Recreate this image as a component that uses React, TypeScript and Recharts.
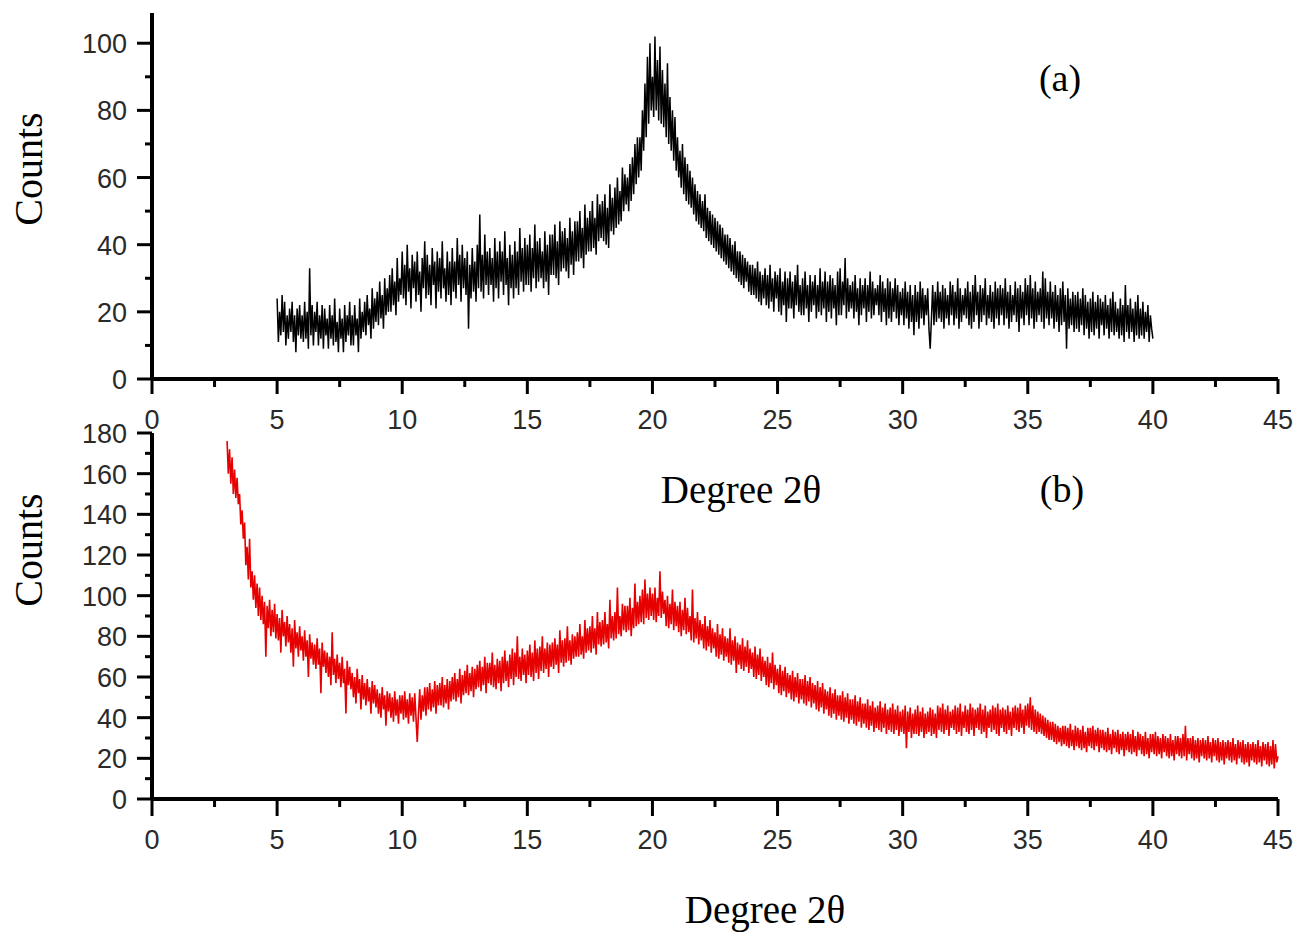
import React from "react";
import { LineChart, Line, XAxis, YAxis } from "recharts";

// sampling grid of the two scans (degrees 2θ)
const startA = 5;
const startB = 3;
const stepDeg = 0.05;

// (a) counts, 5.00 → 40.00, one row = 0.5°
const countsA = [
  24, 11, 20, 13, 25, 14, 23, 10, 19, 12,
  21, 14, 23, 11, 19, 8, 21, 13, 22, 12,
  19, 11, 23, 12, 20, 9, 33, 13, 22, 10,
  20, 14, 23, 10, 19, 12, 22, 9, 21, 13,
  18, 9, 22, 12, 19, 10, 24, 11, 17, 8,
  21, 12, 18, 8, 22, 11, 19, 13, 23, 10,
  19, 10, 22, 13, 18, 8, 24, 12, 20, 14,
  23, 13, 25, 16, 21, 12, 27, 15, 24, 17,
  26, 16, 29, 18, 25, 15, 30, 19, 27, 20,
  31, 20, 33, 22, 29, 19, 36, 23, 30, 25,
  38, 24, 34, 22, 40, 26, 33, 21, 37, 27,
  35, 23, 38, 25, 32, 20, 36, 27, 41, 24,
  37, 25, 34, 22, 39, 28, 35, 21, 38, 26,
  36, 24, 41, 27, 33, 23, 38, 25, 35, 22,
  39, 26, 35, 24, 42, 28, 37, 23, 40, 27,
  36, 25, 38, 15, 34, 24, 39, 26, 35, 23,
  40, 27, 49, 26, 37, 24, 43, 28, 38, 25,
  39, 28, 36, 23, 42, 27, 38, 24, 41, 29,
  38, 25, 44, 28, 36, 22, 40, 27, 37, 24,
  41, 27, 38, 25, 45, 29, 39, 26, 42, 28,
  40, 28, 43, 26, 39, 30, 46, 27, 41, 29,
  42, 30, 38, 27, 44, 29, 40, 25, 43, 31,
  43, 31, 46, 30, 41, 28, 47, 32, 44, 33,
  45, 32, 42, 30, 48, 34, 44, 31, 47, 35,
  47, 35, 50, 36, 45, 33, 52, 37, 48, 38,
  50, 38, 53, 39, 48, 37, 55, 41, 52, 42,
  53, 41, 55, 40, 51, 39, 58, 44, 54, 43,
  57, 45, 60, 46, 56, 47, 63, 50, 61, 52,
  60, 50, 64, 53, 66, 55, 70, 58, 72, 60,
  72, 62, 80, 68, 88, 72, 96, 76, 100, 80,
  90, 78, 102, 80, 95, 77, 99, 76, 92, 75,
  88, 72, 94, 70, 84, 68, 80, 65, 78, 62,
  72, 60, 68, 57, 70, 55, 66, 53, 64, 52,
  62, 51, 60, 49, 58, 47, 56, 46, 55, 45,
  53, 44, 55, 42, 51, 41, 50, 40, 49, 39,
  48, 38, 47, 37, 46, 36, 45, 35, 43, 34,
  43, 33, 42, 32, 40, 31, 41, 30, 38, 29,
  38, 28, 37, 27, 36, 29, 35, 26, 34, 25,
  34, 25, 33, 24, 35, 23, 32, 22, 31, 24,
  33, 22, 31, 21, 34, 23, 30, 20, 32, 24,
  31, 20, 33, 19, 29, 22, 32, 17, 30, 21,
  32, 21, 29, 18, 31, 22, 34, 20, 28, 19,
  30, 19, 32, 21, 28, 17, 31, 20, 29, 22,
  31, 18, 28, 20, 33, 19, 29, 21, 32, 17,
  29, 20, 31, 18, 30, 21, 28, 16, 32, 19,
  33, 19, 29, 22, 36, 18, 30, 20, 28, 21,
  29, 18, 31, 20, 27, 16, 30, 19, 28, 21,
  30, 17, 28, 20, 32, 18, 29, 19, 27, 22,
  28, 19, 31, 17, 29, 20, 27, 16, 30, 18,
  29, 17, 27, 20, 30, 18, 28, 16, 26, 19,
  27, 16, 29, 18, 26, 15, 28, 17, 25, 13,
  28, 17, 26, 15, 29, 18, 27, 16, 25, 19,
  27, 15, 9, 18, 28, 16, 26, 17, 29, 18,
  26, 17, 28, 15, 27, 18, 25, 16, 29, 19,
  28, 16, 26, 18, 30, 15, 27, 17, 25, 19,
  27, 18, 29, 16, 26, 15, 28, 17, 31, 19,
  26, 15, 28, 17, 27, 19, 30, 16, 25, 18,
  28, 17, 26, 15, 29, 18, 27, 16, 28, 19,
  27, 16, 30, 18, 26, 15, 28, 17, 25, 19,
  29, 17, 27, 14, 28, 18, 26, 16, 30, 19,
  28, 16, 31, 18, 27, 15, 29, 17, 26, 19,
  27, 17, 32, 15, 30, 18, 26, 16, 29, 18,
  26, 15, 28, 17, 25, 14, 27, 16, 29, 17,
  25, 9, 27, 15, 24, 16, 26, 14, 25, 15,
  26, 14, 24, 16, 27, 13, 25, 15, 23, 12,
  24, 14, 26, 13, 23, 15, 25, 12, 24, 16,
  23, 13, 25, 15, 22, 12, 24, 14, 26, 13,
  23, 14, 21, 12, 24, 13, 22, 11, 28, 14,
  22, 12, 24, 14, 21, 11, 23, 13, 25, 12,
  21, 13, 23, 12, 20, 14, 22, 11, 19, 15,
  12,
];

// (b) counts, 3.00 → 45.00, one row = 0.5°
const countsB = [
  176, 160, 172, 155, 168, 150, 162, 148, 158, 145,
  150, 135, 142, 128, 136, 115, 124, 108, 128, 104,
  112, 98, 110, 94, 106, 90, 104, 88, 100, 86,
  97, 70, 95, 84, 98, 80, 93, 82, 96, 79,
  91, 78, 89, 72, 93, 80, 87, 75, 90, 77,
  86, 72, 84, 65, 88, 74, 82, 70, 85, 73,
  80, 68, 83, 70, 78, 60, 81, 69, 77, 66,
  76, 64, 79, 66, 74, 52, 77, 65, 73, 62,
  72, 60, 70, 56, 82, 61, 69, 57, 71, 59,
  67, 55, 70, 57, 64, 42, 68, 56, 65, 54,
  62, 50, 60, 47, 64, 52, 59, 44, 61, 49,
  57, 46, 59, 48, 55, 42, 58, 47, 56, 45,
  54, 42, 52, 40, 55, 44, 51, 36, 53, 43,
  52, 40, 50, 38, 53, 41, 49, 37, 51, 42,
  51, 39, 53, 40, 49, 37, 52, 41, 50, 38,
  52, 40, 28, 42, 54, 39, 51, 43, 55, 41,
  55, 44, 57, 43, 54, 45, 58, 42, 56, 46,
  57, 46, 60, 45, 56, 47, 59, 44, 58, 48,
  60, 49, 62, 48, 59, 50, 64, 47, 61, 51,
  63, 52, 66, 51, 62, 53, 65, 50, 64, 54,
  66, 55, 68, 53, 65, 56, 70, 52, 67, 57,
  67, 56, 72, 55, 66, 54, 69, 57, 68, 53,
  70, 57, 73, 58, 68, 55, 71, 59, 74, 56,
  72, 60, 80, 59, 70, 58, 74, 61, 71, 57,
  73, 61, 76, 60, 72, 58, 78, 62, 74, 59,
  75, 63, 80, 62, 74, 64, 77, 60, 76, 65,
  77, 64, 79, 66, 76, 62, 83, 67, 78, 65,
  79, 67, 85, 68, 78, 66, 81, 69, 80, 70,
  82, 70, 86, 71, 80, 69, 88, 72, 84, 73,
  85, 72, 90, 74, 84, 71, 92, 76, 87, 75,
  88, 76, 92, 77, 86, 74, 98, 79, 90, 78,
  92, 79, 104, 81, 90, 80, 96, 83, 95, 82,
  95, 83, 99, 80, 94, 84, 106, 85, 97, 86,
  100, 87, 103, 86, 108, 89, 101, 88, 104, 90,
  101, 88, 104, 87, 99, 90, 112, 89, 102, 91,
  98, 85, 100, 84, 96, 86, 103, 83, 97, 85,
  95, 82, 97, 80, 93, 83, 99, 81, 94, 82,
  90, 78, 103, 77, 89, 79, 92, 76, 88, 78,
  86, 74, 90, 73, 85, 75, 88, 72, 84, 74,
  82, 70, 86, 69, 81, 71, 84, 68, 80, 70,
  79, 67, 84, 66, 78, 68, 80, 62, 77, 66,
  76, 64, 79, 63, 75, 65, 78, 62, 74, 64,
  72, 60, 75, 59, 71, 61, 74, 58, 70, 60,
  68, 56, 70, 55, 67, 57, 72, 54, 66, 56,
  64, 52, 66, 51, 63, 53, 65, 50, 62, 52,
  61, 49, 63, 48, 60, 50, 62, 47, 59, 49,
  59, 47, 61, 46, 58, 48, 60, 45, 57, 47,
  56, 44, 58, 43, 55, 45, 57, 42, 54, 44,
  53, 41, 55, 40, 52, 42, 54, 39, 51, 41,
  51, 39, 53, 38, 50, 40, 52, 37, 49, 39,
  49, 37, 51, 36, 48, 38, 50, 35, 47, 37,
  47, 35, 49, 34, 46, 36, 48, 33, 45, 35,
  46, 34, 48, 33, 45, 35, 47, 32, 44, 34,
  45, 33, 47, 32, 44, 34, 46, 31, 43, 33,
  44, 32, 46, 25, 43, 33, 45, 30, 42, 32,
  44, 32, 46, 31, 43, 33, 45, 30, 42, 32,
  43, 33, 45, 31, 44, 32, 42, 30, 46, 34,
  45, 33, 47, 32, 44, 34, 46, 31, 43, 35,
  44, 34, 46, 32, 45, 33, 47, 31, 43, 35,
  46, 33, 44, 32, 47, 34, 45, 31, 44, 35,
  45, 34, 47, 32, 44, 33, 46, 30, 43, 35,
  44, 33, 46, 34, 45, 32, 47, 31, 44, 35,
  45, 33, 44, 32, 46, 34, 43, 31, 45, 35,
  46, 34, 45, 33, 47, 35, 44, 32, 46, 36,
  47, 35, 50, 34, 46, 33, 44, 32, 43, 33,
  42, 32, 41, 31, 40, 30, 39, 29, 38, 29,
  38, 28, 37, 27, 36, 28, 35, 26, 36, 27,
  36, 26, 35, 25, 37, 26, 34, 24, 36, 26,
  35, 25, 34, 24, 36, 25, 33, 23, 35, 26,
  35, 25, 36, 24, 34, 26, 35, 23, 34, 25,
  34, 24, 33, 23, 35, 24, 32, 22, 34, 25,
  33, 23, 34, 22, 32, 24, 33, 21, 32, 24,
  33, 23, 32, 22, 34, 23, 31, 21, 33, 24,
  32, 22, 31, 21, 33, 22, 30, 20, 32, 23,
  32, 22, 33, 21, 31, 22, 30, 20, 32, 23,
  31, 21, 30, 20, 32, 21, 29, 19, 31, 22,
  31, 21, 30, 20, 32, 21, 36, 19, 30, 22,
  30, 20, 31, 19, 29, 20, 30, 18, 29, 21,
  30, 20, 29, 19, 31, 20, 28, 18, 30, 21,
  29, 19, 30, 18, 28, 19, 29, 17, 28, 20,
  29, 19, 28, 18, 30, 19, 27, 17, 29, 20,
  28, 18, 29, 17, 27, 18, 28, 16, 27, 19,
  28, 18, 27, 17, 29, 18, 26, 16, 28, 19,
  27, 17, 28, 16, 26, 17, 29, 15, 27, 18,
  21,
];

const xTicks = [0, 2.5, 5, 7.5, 10, 12.5, 15, 17.5, 20, 22.5, 25, 27.5, 30, 32.5, 35, 37.5, 40, 42.5, 45];
const yTicksA = [0, 10, 20, 30, 40, 50, 60, 70, 80, 90, 100];
const yTicksB = [0, 10, 20, 30, 40, 50, 60, 70, 80, 90, 100, 110, 120, 130, 140, 150, 160, 170, 180];

const tableA = countsA.map((c, i) => ({ x: +(startA + i * stepDeg).toFixed(2), counts: c }));
const tableB = countsB.map((c, i) => ({ x: +(startB + i * stepDeg).toFixed(2), counts: c }));

const tickFont = { fontFamily: "'Liberation Sans', Arial, sans-serif", fontSize: 27, fill: "#2a2a2a" };
const serif = "'Liberation Serif', 'Times New Roman', serif";

const YTick = (props: any) => {
  const { x, y, payload } = props;
  const v = payload.value;
  const major = v % 20 === 0;
  return (
    <g>
      <line x1={x - (major ? 15 : 7)} x2={x} y1={y} y2={y} stroke="#000" strokeWidth={3} />
      {major && (
        <text x={x - 25} y={y + 10} textAnchor="end" {...tickFont}>
          {v}
        </text>
      )}
    </g>
  );
};

const makeXTick = (len: number) => (props: any) => {
  const { x, y, payload } = props;
  const v = payload.value;
  const major = v % 5 === 0;
  return (
    <g>
      <line x1={x} x2={x} y1={y} y2={y + (major ? len : 8)} stroke="#000" strokeWidth={3} />
      {major && (
        <text x={x} y={y + 50} textAnchor="middle" {...tickFont}>
          {v}
        </text>
      )}
    </g>
  );
};

const XTickA = makeXTick(15);
const XTickB = makeXTick(17);

const W = 1306;
const H = 938;
const abs: React.CSSProperties = { position: "absolute", left: 0, top: 0 };

export default function App() {
  return (
    <div style={{ position: "absolute", left: 0, top: 0, width: W, height: H, background: "#fff" }}>
      <div style={abs}>
        <LineChart width={W} height={H} data={tableA} margin={{ top: 13, right: 28, bottom: 558, left: 151 }}>
          <XAxis
            dataKey="x"
            type="number"
            domain={[0, 45]}
            ticks={xTicks}
            interval={0}
            height={1}
            tickSize={0}
            tickMargin={0}
            tick={XTickA}
            axisLine={{ stroke: "#000", strokeWidth: 4 }}
            tickLine={false}
          />
          <YAxis
            type="number"
            domain={[0, 109]}
            ticks={yTicksA}
            interval={0}
            width={1}
            tickSize={0}
            tickMargin={0}
            tick={YTick}
            axisLine={{ stroke: "#000", strokeWidth: 4 }}
            tickLine={false}
          />
          <Line type="linear" dataKey="counts" stroke="#000" strokeWidth={1.5} dot={false} isAnimationActive={false} />
        </LineChart>
      </div>
      <div style={abs}>
        <LineChart width={W} height={H} data={tableB} margin={{ top: 433, right: 28, bottom: 138, left: 151 }}>
          <XAxis
            dataKey="x"
            type="number"
            domain={[0, 45]}
            ticks={xTicks}
            interval={0}
            height={1}
            tickSize={0}
            tickMargin={0}
            tick={XTickB}
            axisLine={{ stroke: "#000", strokeWidth: 4 }}
            tickLine={false}
          />
          <YAxis
            type="number"
            domain={[0, 180]}
            ticks={yTicksB}
            interval={0}
            width={1}
            tickSize={0}
            tickMargin={0}
            tick={YTick}
            axisLine={{ stroke: "#000", strokeWidth: 4 }}
            tickLine={false}
          />
          <Line type="linear" dataKey="counts" stroke="#e60000" strokeWidth={1.6} dot={false} isAnimationActive={false} />
        </LineChart>
      </div>
      <svg style={{ ...abs, pointerEvents: "none" }} width={W} height={H}>
        <g fontFamily={serif} fill="#000">
          <text x={0} y={0} fontSize={40} textAnchor="middle" transform="translate(42 169) rotate(-90)">Counts</text>
          <text x={0} y={0} fontSize={40} textAnchor="middle" transform="translate(42 550) rotate(-90)">Counts</text>
          <text x={741} y={503} fontSize={39} textAnchor="middle">Degree 2θ</text>
          <text x={765} y={923} fontSize={39} textAnchor="middle">Degree 2θ</text>
          <text x={1060} y={91} fontSize={38} textAnchor="middle">(a)</text>
          <text x={1062} y={502} fontSize={38} textAnchor="middle">(b)</text>
        </g>
      </svg>
    </div>
  );
}
